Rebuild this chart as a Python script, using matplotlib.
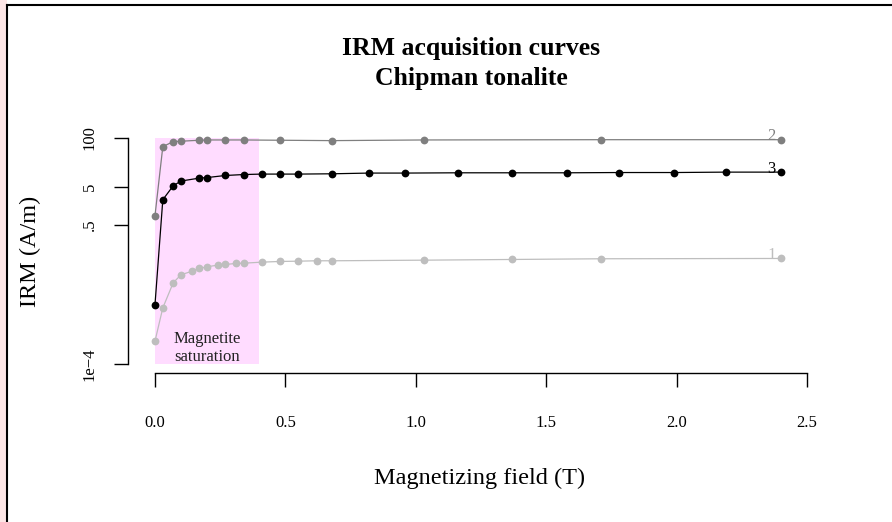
import matplotlib
matplotlib.use('Agg')
import matplotlib.pyplot as plt
from matplotlib.patches import Rectangle
from matplotlib.lines import Line2D

# ---- data ----
field1 = [0, 0.03, 0.07, 0.1, 0.14, 0.17, 0.2, 0.24, 0.27, 0.31, 0.34, 0.41,
          0.48, 0.55, 0.62, 0.68, 1.03, 1.37, 1.71, 2.4]
irm1 = [4.05e-4, 3.1e-3, 0.0144, 0.0235, 0.0287, 0.0345, 0.0382, 0.0421,
        0.0439, 0.0467, 0.0475, 0.0506, 0.0528, 0.0537, 0.055, 0.055, 0.0571,
        0.0596, 0.0622, 0.0634]

field2 = [0, 0.03, 0.07, 0.1, 0.17, 0.2, 0.27, 0.34, 0.48, 0.68, 1.03, 1.71, 2.4]
irm2 = [0.87, 59, 80, 82, 87, 88.5, 88.5, 88.5, 87, 85, 88.5, 90, 90]

field3 = [0, 0.03, 0.07, 0.1, 0.17, 0.2, 0.27, 0.34, 0.41, 0.48, 0.55, 0.68,
          0.82, 0.96, 1.16, 1.37, 1.58, 1.78, 1.99, 2.19, 2.4]
irm3 = [3.8e-3, 2.3, 5.4, 7.2, 8.6, 8.9, 10.1, 10.7, 11.0, 11.0, 11.0, 11.2,
        11.7, 11.7, 11.9, 11.9, 11.9, 12.1, 12.1, 12.4, 12.4]

series_labels = ['1', '2', '3']
series_colors = ['#bebebe', '#7f7f7f', '#000000']

xticks = [0.0, 0.5, 1.0, 1.5, 2.0, 2.5]
xticklabels = ['0.0', '0.5', '1.0', '1.5', '2.0', '2.5']
yticks = [1e-4, 0.5, 5, 100]
yticklabels = ['1e\u22124', '.5', '5', '100']

sat_range = (0.0, 0.4)

# ---- figure ----
plt.rcParams['font.family'] = ['Liberation Serif', 'DejaVu Serif']
W, H = 892, 522
fig = plt.figure(figsize=(W / 100, H / 100), dpi=100)

# left watermark-ish strip and frame
fig.patches.append(Rectangle((0, 0), 7 / W, 1, transform=fig.transFigure,
                             facecolor='#fde6e6', edgecolor='none', zorder=0))
fig.add_artist(Line2D([7 / W, 7 / W], [0, 1 - 5 / H], color='black', lw=1.5))
fig.add_artist(Line2D([7 / W, 1], [1 - 5 / H, 1 - 5 / H], color='black', lw=1.5))

ax = fig.add_axes([128 / W, 1 - 373 / H, (810 - 128) / W, (373 - 129) / H])
ax.set_yscale('log')
ax.set_xlim(-0.1035, 2.5115)
ax.set_ylim(10 ** -4.238, 10 ** 2.238)

ax.add_patch(Rectangle((sat_range[0], yticks[0]), sat_range[1] - sat_range[0],
                       yticks[-1] - yticks[0], facecolor='#ffdcff',
                       edgecolor='none', zorder=1))
ax.text(0.2, 2.64e-4, 'Magnetite\nsaturation', ha='center', va='center',
        fontsize=12, linespacing=1.15, color='#222222', zorder=2)

for f, v, c, lab in zip([field1, field2, field3], [irm1, irm2, irm3],
                        series_colors, series_labels):
    ax.plot(f, v, color=c, lw=0.9, marker='o', markersize=5.6,
            markeredgewidth=0, zorder=3)
    ax.annotate(lab, (f[-1], v[-1]), xytext=(-4, -0.5),
                textcoords='offset points', ha='right', va='baseline',
                fontsize=12, color=c, zorder=4)

for s in ['top', 'right']:
    ax.spines[s].set_visible(False)
ax.spines['left'].set_bounds(yticks[0], yticks[-1])
ax.spines['bottom'].set_bounds(xticks[0], xticks[-1])
ax.spines['left'].set_linewidth(1.0)
ax.spines['bottom'].set_linewidth(1.0)
ax.patch.set_visible(False)

ax.set_xticks(xticks)
ax.set_xticklabels(xticklabels, fontsize=12)
ax.set_yticks(yticks)
ax.set_yticklabels(yticklabels, fontsize=12, rotation=90, va='center')
ax.minorticks_off()
ax.tick_params(axis='x', length=10, width=1.0, pad=20)
ax.tick_params(axis='y', length=10, width=1.0, pad=12)

fig.text(471 / W, 1 - 48 / H, 'IRM acquisition curves', ha='center',
         va='center', fontsize=18.5, fontweight='bold')
fig.text(471 / W, 1 - 78 / H, 'Chipman tonalite', ha='center',
         va='center', fontsize=18.5, fontweight='bold')
fig.text(480 / W, 1 - 478 / H, 'Magnetizing field (T)', ha='center',
         va='center', fontsize=17.5)
fig.text(30 / W, 1 - 251 / H, 'IRM (A/m)', ha='center', va='center',
         rotation=90, fontsize=17.5)

fig.savefig('out.png', dpi=100)
